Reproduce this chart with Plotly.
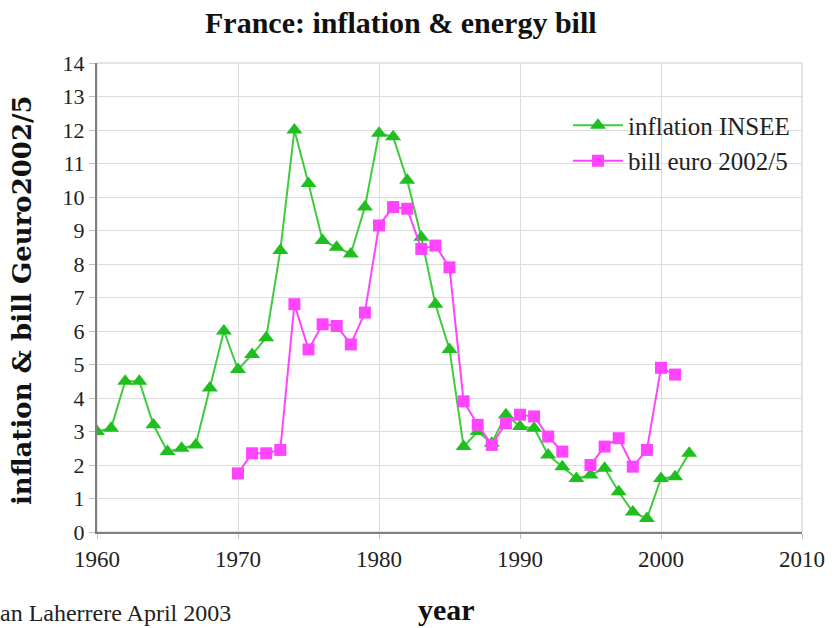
import plotly.graph_objects as go

# Annual series
years_infl = list(range(1960, 2003))
inflation = [3.0, 3.1, 4.5, 4.5, 3.2, 2.4, 2.5, 2.6, 4.3, 6.0,
             4.85, 5.3, 5.8, 8.4, 12.0, 10.4, 8.7, 8.5, 8.3, 9.7,
             11.9, 11.8, 10.5, 8.8, 6.8, 5.45, 2.55, 3.0, 2.65, 3.5,
             3.15, 3.1, 2.3, 1.95, 1.6, 1.7, 1.9, 1.2, 0.6, 0.4,
             1.6, 1.65, 2.35]

years_bill = list(range(1970, 2002))
bill = [1.75, 2.35, 2.35, 2.45, 6.8, 5.45, 6.2, 6.15, 5.6, 6.55,
        9.15, 9.7, 9.65, 8.45, 8.55, 7.9, 3.9, 3.2, 2.6, 3.25,
        3.5, 3.45, 2.85, 2.4, None, 2.0, 2.55, 2.8, 1.95, 2.45,
        4.9, 4.7]

x_ticks = [1960, 1970, 1980, 1990, 2000, 2010]
y_ticks = list(range(0, 15))

SERIF = "Liberation Serif, Times New Roman, serif"

fig = go.Figure()
fig.add_trace(go.Scatter(
    x=years_infl, y=inflation, name="inflation INSEE",
    mode="lines+markers",
    line=dict(color="#3ccc3c", width=2),
    marker=dict(symbol="triangle-up", size=14, color="#1fbf1f"),
))
fig.add_trace(go.Scatter(
    x=years_bill, y=bill, name="bill euro 2002/5",
    mode="lines+markers", connectgaps=False,
    line=dict(color="#ff44ff", width=2),
    marker=dict(symbol="square", size=12, color="#ff44ff"),
))

fig.update_layout(
    width=837, height=628,
    margin=dict(l=97, r=32, t=63, b=96),
    paper_bgcolor="white", plot_bgcolor="white",
    font=dict(family=SERIF, size=22, color="#222"),
    showlegend=True,
    legend=dict(x=0.668, y=0.916, xanchor="left", yanchor="top",
                bgcolor="rgba(0,0,0,0)", font=dict(family=SERIF, size=25, color="#222"),
                itemwidth=50, tracegroupgap=0),
    xaxis=dict(range=[1960, 2010], tickvals=x_ticks, ticktext=[str(v) for v in x_ticks],
               showgrid=True, gridcolor="#dcdcdc", gridwidth=1,
               showline=True, linecolor="#808080", linewidth=2,
               ticks="outside", ticklen=5, tickcolor="#c0c0c0",
               zeroline=False, tickfont=dict(family=SERIF, size=23, color="#222")),
    yaxis=dict(range=[0, 14], tickvals=y_ticks,
               showgrid=True, gridcolor="#dcdcdc", gridwidth=1,
               showline=True, linecolor="#808080", linewidth=2,
               ticks="outside", ticklen=6, tickcolor="#c0c0c0",
               zeroline=False, tickfont=dict(family=SERIF, size=22, color="#222")),
    shapes=[dict(type="rect", xref="paper", yref="paper", x0=0, y0=0, x1=1, y1=1,
                 line=dict(color="#c8c8c8", width=1), layer="below")],
    annotations=[
        dict(text="<b>France: inflation & energy bill</b>", xref="paper", yref="paper",
             x=0.431, y=1.087, xanchor="center", yanchor="middle", showarrow=False,
             font=dict(family=SERIF, size=30, color="#111")),
        dict(text="<b>inflation & bill Geuro2002/5</b>", xref="paper", yref="paper",
             x=-0.106, y=0.495, xanchor="center", yanchor="middle", textangle=-90,
             showarrow=False, font=dict(family="DejaVu Serif", size=26, color="#111")),
        dict(text="<b>year</b>", xref="paper", yref="paper",
             x=0.496, y=-0.166, xanchor="center", yanchor="middle", showarrow=False,
             font=dict(family=SERIF, size=30, color="#111")),
        dict(text="an Laherrere April 2003", xref="paper", yref="paper",
             x=-0.14, y=-0.173, xanchor="left", yanchor="middle", showarrow=False,
             font=dict(family=SERIF, size=24, color="#222")),
    ],
)

fig.write_html("out.html")
